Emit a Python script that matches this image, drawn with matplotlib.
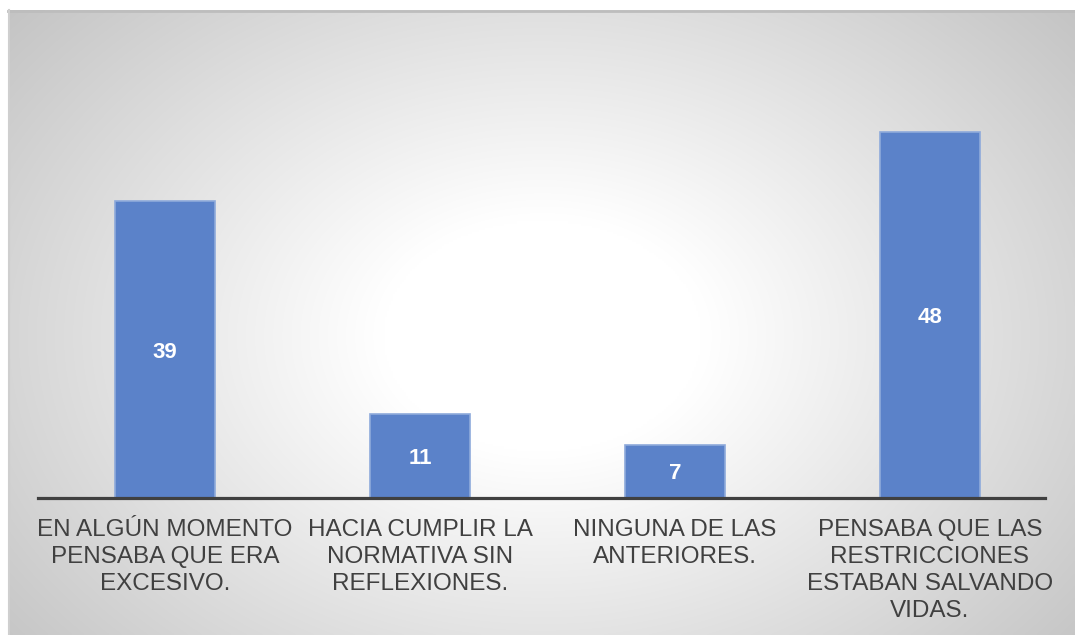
import numpy as np
import matplotlib
matplotlib.use("Agg")
import matplotlib.pyplot as plt

categorias = [
    "EN ALGÚN MOMENTO\nPENSABA QUE ERA\nEXCESIVO.",
    "HACIA CUMPLIR LA\nNORMATIVA SIN\nREFLEXIONES.",
    "NINGUNA DE LAS\nANTERIORES.",
    "PENSABA QUE LAS\nRESTRICCIONES\nESTABAN SALVANDO\nVIDAS.",
]
valores = [39, 11, 7, 48]

plt.rcParams["font.family"] = ["Liberation Sans", "DejaVu Sans"]

W, H = 1075, 635
fig = plt.figure(figsize=(W / 100, H / 100), dpi=100, facecolor="white")

# radial gradient background of the chart area
bg = fig.add_axes([8 / W, 0, (W - 8) / W, (H - 10) / H])
ny, nx = 300, 500
yy, xx = np.mgrid[0:ny, 0:nx]
cx, cy = nx * 0.50, ny * 0.52
d = np.sqrt(((xx - cx) / (nx * 0.5)) ** 2 + ((yy - cy) / (ny * 0.62)) ** 2)
d = np.clip((d - 0.3) / 1.0, 0, 1)
g = 1.0 - 0.23 * d
bg.imshow(np.dstack([g, g, g]), aspect="auto", extent=[0, 1, 0, 1], interpolation="bilinear")
bg.set_xlim(0, 1)
bg.set_ylim(0, 1)
bg.axis("off")
bg.plot([0, 1], [0.999, 0.999], color="#bdbdbd", lw=2, transform=bg.transAxes, clip_on=False)
bg.plot([0.001, 0.001], [0, 1], color="#cfcfcf", lw=1.5, transform=bg.transAxes, clip_on=False)

ax = fig.add_axes([37.5 / W, (H - 498) / H, (1045 - 37.5) / W, (498 - 20) / H])
ax.patch.set_alpha(0)
x = np.arange(len(valores))
bars = ax.bar(x, valores, width=0.39, color="#5b82c9", edgecolor="#8eaadb", linewidth=1.2)
for b, v in zip(bars, valores):
    ax.text(b.get_x() + b.get_width() / 2, v / 2 - 0.35, str(v), ha="center", va="center",
            color="white", fontsize=16, fontweight="bold")

ax.set_xlim(-0.5, 3.451)
ax.set_ylim(0, 62.7)
ax.set_xticks(x)
ax.set_xticklabels(categorias, fontsize=17.5, color="#404040", linespacing=1.3)
ax.tick_params(axis="x", length=0, pad=15)
ax.set_yticks([])
for s in ["top", "right", "left"]:
    ax.spines[s].set_visible(False)
ax.spines["bottom"].set_color("#404040")
ax.spines["bottom"].set_linewidth(2.3)

fig.savefig("out.png", dpi=100, facecolor="white")
